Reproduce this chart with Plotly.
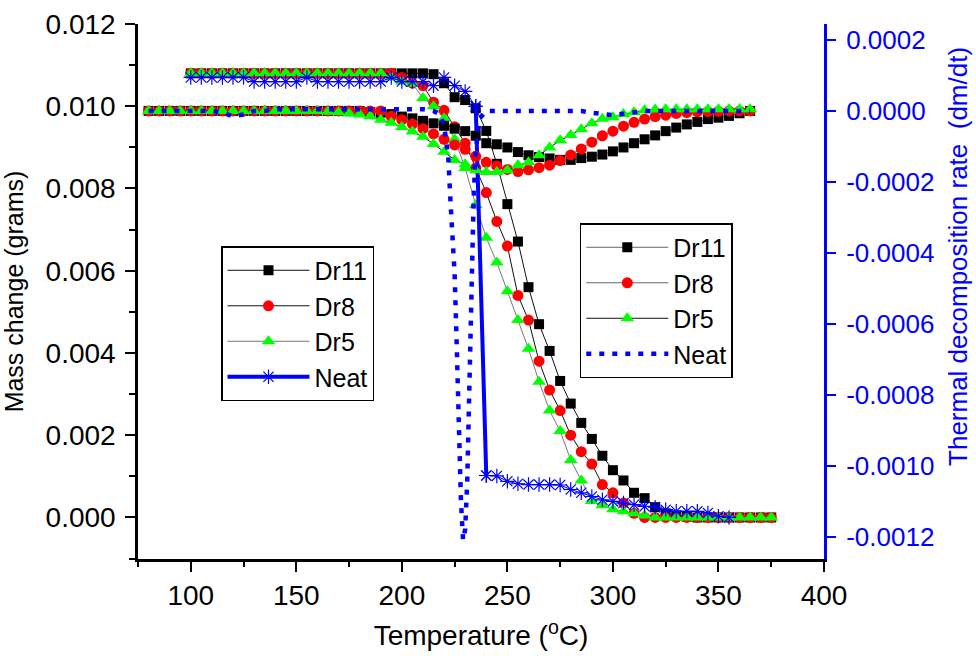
import plotly.graph_objects as go

# ---------------- data ----------------
# mass-change curves (left axis), temperature grid in degC
temp_mass = [100, 105, 110, 115, 120, 125, 130, 135, 140, 145, 150, 155, 160, 165, 170, 175,
             180, 185, 190, 195, 200, 205, 210, 215, 220, 225, 230, 235, 240, 245, 250, 255,
             260, 265, 270, 275, 280, 285, 290, 295, 300, 305, 310, 315, 320, 325, 330, 335,
             340, 345, 350, 355, 360, 365, 370, 375]

dr11_mass = [0.0108, 0.0108, 0.0108, 0.0108, 0.0108, 0.0108, 0.0108, 0.0108, 0.0108, 0.0108,
             0.0108, 0.0108, 0.0108, 0.0108, 0.0108, 0.0108, 0.0108, 0.0108, 0.0108, 0.0108,
             0.0108, 0.0108, 0.0108, 0.01078, 0.01056, 0.01022, 0.01015, 0.00995, 0.0094, 0.0086,
             0.00762, 0.00671, 0.0056, 0.0047, 0.00405, 0.00332, 0.00277, 0.0023, 0.00191, 0.0015,
             0.00115, 0.0009, 0.0006, 0.00047, 0.00025, 0.0001, 0.00005, 0.00002, 0.0, 0.0,
             0.0, 0.0, 0.0, 0.0, 0.0, 0.0]

dr8_mass = [0.0108, 0.0108, 0.0108, 0.0108, 0.0108, 0.0108, 0.0108, 0.0108, 0.0108, 0.0108,
            0.0108, 0.0108, 0.0108, 0.0108, 0.0108, 0.0108, 0.0108, 0.0108, 0.0108, 0.0108,
            0.0107, 0.01056, 0.0105, 0.0101, 0.0099, 0.0095, 0.0091, 0.0085, 0.0079, 0.0072,
            0.0066, 0.0054, 0.0048, 0.0038, 0.0031, 0.0026, 0.0020, 0.0016, 0.0013, 0.0008,
            0.0006, 0.00035, 0.0001, 0.0, 0.0, 0.0, 0.0, 0.0, 0.0, 0.0,
            0.0, 0.0, 0.0, 0.0, 0.0, 0.0]

dr5_mass = [0.0108, 0.0108, 0.0108, 0.0108, 0.0108, 0.0108, 0.0108, 0.0108, 0.0108, 0.0108,
            0.0108, 0.0108, 0.0108, 0.0108, 0.0108, 0.0108, 0.0108, 0.0108, 0.0108, 0.0107,
            0.0106, 0.01055, 0.0102, 0.0100, 0.0097, 0.0092, 0.0085, 0.0076, 0.0068, 0.0062,
            0.0055, 0.0048, 0.0041, 0.0033, 0.0026, 0.0021, 0.0014, 0.0009, 0.0004, 0.0003,
            0.0002, 0.00015, 0.0001, 0.00005, 0.0, 0.0, 0.0, 0.0, 0.0, 0.0,
            0.0, 0.0, 0.0, 0.0, 0.0, 0.0]

temp_neat = [100, 105, 110, 115, 120, 125, 130, 135, 140, 145, 150, 155, 160, 165, 170, 175,
             180, 185, 190, 195, 200, 205, 210, 215, 220, 225, 230, 235, 240, 245, 250, 255,
             260, 265, 270, 275, 280, 285, 290, 295, 300, 305, 310, 315, 320, 325, 330, 335,
             340, 345, 350, 355]

neat_mass = [0.0107, 0.0107, 0.0107, 0.0107, 0.0107, 0.0107, 0.0106, 0.0106, 0.0106, 0.0106,
             0.0106, 0.0107, 0.0106, 0.0106, 0.0106, 0.0106, 0.0106, 0.0106, 0.0106, 0.0107,
             0.0106, 0.0106, 0.0106, 0.0105, 0.0107, 0.0105, 0.01036, 0.0100, 0.00102, 0.00101,
             0.00088, 0.00082, 0.0008, 0.0008, 0.0008, 0.00079, 0.00068, 0.0006, 0.00051, 0.00043,
             0.00039, 0.00035, 0.00031, 0.00027, 0.00025, 0.00019, 0.00015, 0.00015, 0.00015, 0.00011,
             0.00003, 0.0]

# thermal decomposition rate curves (right axis)
temp_rate = [80, 85, 90, 95, 100, 105, 110, 115, 120, 125, 130, 135, 140, 145, 150, 155, 160,
             165, 170, 175, 180, 185, 190, 195, 200, 205, 210, 215, 220, 225, 230, 235, 240,
             245, 250, 255, 260, 265, 270, 275, 280, 285, 290, 295, 300, 305, 310, 315, 320,
             325, 330, 335, 340, 345, 350, 355, 360, 365]

dr11_rate = [0, 0, 0, 0, 0, 0, 0, 0, 0, 0, 0, 0, 0, 0, 0, 0, 0, 0, 0, 0,
             0, -0.000003, -0.000005, -0.000009, -0.000016, -0.000021, -0.000028, -0.000035,
             -0.000042, -0.00005, -0.000057, -0.00007, -0.000091, -0.000094, -0.000103, -0.000116,
             -0.000125, -0.00013, -0.000134, -0.000138, -0.000138, -0.000133, -0.000129, -0.000123,
             -0.000114, -0.000103, -0.000091, -0.00008, -0.000069, -0.000057, -0.000047, -0.000038,
             -0.000031, -0.000023, -0.000019, -0.000014, -0.0000065, 0]

dr8_rate = [0, 0, 0, 0, 0, 0, 0, 0, 0, 0, 0, 0, 0, 0, 0, 0, 0, 0, 0, 0, 0, 0, 0,
            -0.000015, -0.000025, -0.000037, -0.00005, -0.000065, -0.00008, -0.000096, -0.000108,
            -0.000128, -0.000145, -0.000155, -0.000165, -0.000171, -0.000166, -0.00016, -0.000153,
            -0.00014, -0.000124, -0.000107, -0.000088, -0.00007, -0.000057, -0.000043, -0.000032,
            -0.000023, -0.000016, -0.000012, -0.000007, -0.0000045, -0.000003, -0.000002,
            -0.000001, 0, 0, 0]

dr5_rate = [0, 0, 0, 0, 0, 0, 0, 0, 0, 0, 0, 0, 0, 0, 0, 0, 0,
            -0.000002, -0.000004, -0.000007, -0.00001, -0.000015, -0.000025, -0.000033, -0.000045,
            -0.000058, -0.000073, -0.000093, -0.000115, -0.000138, -0.00015, -0.000167, -0.000172,
            -0.000172, -0.000167, -0.000153, -0.000145, -0.000125, -0.000103, -0.000083, -0.000068,
            -0.000052, -0.000035, -0.000022, -0.000018, -0.000009, -0.000004, 0.000002, 0.000004,
            0.000005, 0.000005, 0.000005, 0.000005, 0.000005, 0.000005, 0.000005, 0.000005, 0.000005]

temp_neat_rate = [80, 85, 90, 95, 100, 105, 110, 115, 120, 125, 130, 135, 140, 145, 150, 155,
                  160, 165, 170, 175, 180, 185, 190, 195, 200, 205, 210, 215, 218, 220, 222, 223,
                  224, 225, 226, 227, 228, 229, 230, 231, 232, 233, 234, 235, 237, 240, 245, 250,
                  255, 260, 265, 270, 275, 280, 285, 290, 295, 300, 305, 310, 315, 320, 325, 330,
                  335, 340, 345, 350, 355, 360, 365]

neat_rate = [0, 0, 0, 0, 0, 0, 0, -0.000005, -0.000015, -0.00001, 0, 0,
             0.000005, 0.000005, 0.000005, 0.000005, 0.000005, 0.000005, 0.000005, 0.000005,
             0.000005, 0.000005, 0.000005, 0.000005, 0.000005, 0.000005, 0.000005, 0,
             -0.00001, -0.00004, -0.00013, -0.00025, -0.00036, -0.00046, -0.00066, -0.0009,
             -0.0011, -0.00121, -0.00118, -0.00104, -0.00078, -0.00048, -0.00025, -0.00011,
             -0.00002, 0, 0, 0, 0, 0, 0, 0, 0, 0, 0, -0.000005, -0.00001, -0.000012,
             -0.000008, -0.000003, 0, 0, 0, 0, 0, 0, 0, 0, 0, 0, 0]

mass_ticks = [0.000, 0.002, 0.004, 0.006, 0.008, 0.010, 0.012]
rate_ticks = [0.0002, 0.0000, -0.0002, -0.0004, -0.0006, -0.0008, -0.0010, -0.0012]
temp_ticks = [100, 150, 200, 250, 300, 350, 400]

# ---------------- figure ----------------
FONT = "Liberation Sans, Arial, sans-serif"
BLACK = "#000000"
RED = "#FF0000"
GREEN = "#00FF00"
BLUE = "#0000FF"

fig = go.Figure()

series_mass = [
    ("Dr11", dr11_mass, "square", 10, BLACK, "#111111"),
    ("Dr8", dr8_mass, "circle", 11, RED, "#111111"),
    ("Dr5", dr5_mass, "triangle-up", 12, GREEN, "#777777"),
]
for name, ys, sym, size, col, lcol in series_mass:
    fig.add_trace(go.Scatter(
        x=temp_mass, y=ys, name=name, mode="lines+markers",
        line=dict(color=lcol, width=1),
        marker=dict(symbol=sym, size=size, color=col, line=dict(width=0)),
        legend="legend", yaxis="y"))

# neat mass: thin connected asterisks
fig.add_trace(go.Scatter(
    x=temp_neat, y=neat_mass, name="Neat", mode="lines+markers", showlegend=False,
    line=dict(color=BLUE, width=1),
    marker=dict(symbol="asterisk-open", size=12, color=BLUE, line=dict(width=1.2, color=BLUE)),
    legend="legend", yaxis="y"))

# neat mass: the abrupt drop drawn as a thick segment
drops = [neat_mass[i + 1] - neat_mass[i] for i in range(len(neat_mass) - 1)]
k = drops.index(min(drops))
fig.add_trace(go.Scatter(
    x=temp_neat[k:k + 2], y=neat_mass[k:k + 2], name="Neat", mode="lines+markers",
    line=dict(color=BLUE, width=4),
    marker=dict(symbol="asterisk-open", size=12, color=BLUE, line=dict(width=1.2, color=BLUE)),
    legend="legend", yaxis="y"))

series_rate = [
    ("Dr11", dr11_rate, "square", 10, BLACK, "#666666"),
    ("Dr8", dr8_rate, "circle", 11, RED, "#666666"),
    ("Dr5", dr5_rate, "triangle-up", 12, GREEN, "#111111"),
]
for name, ys, sym, size, col, lcol in series_rate:
    fig.add_trace(go.Scatter(
        x=temp_rate, y=ys, name=name, mode="lines+markers",
        line=dict(color=lcol, width=1),
        marker=dict(symbol=sym, size=size, color=col, line=dict(width=0)),
        legend="legend2", yaxis="y2"))

fig.add_trace(go.Scatter(
    x=temp_neat_rate, y=neat_rate, name="Neat", mode="lines",
    line=dict(color=BLUE, width=4.5, dash="5px,8px"),
    legend="legend2", yaxis="y2"))

axis_common = dict(showgrid=False, zeroline=False, showline=True)

fig.update_layout(
    width=976, height=656,
    margin=dict(l=138, r=152, t=24, b=97, autoexpand=False),
    paper_bgcolor="white", plot_bgcolor="white",
    font=dict(family=FONT, size=26, color=BLACK),
    xaxis=dict(
        **axis_common, range=[75, 400], tickvals=temp_ticks,
        ticks="outside", ticklen=10, tickwidth=2, tickcolor=BLACK,
        linecolor=BLACK, linewidth=2.5,
        tickfont=dict(size=28, family=FONT),
        minor=dict(ticks="outside", ticklen=5, tickwidth=2, tickcolor=BLACK,
                   tick0=75, dtick=25, showgrid=False),
        title=dict(text="Temperature (<sup>o</sup>C)", font=dict(size=28, family=FONT),
                   standoff=16),
    ),
    yaxis=dict(
        **axis_common, range=[-0.00101, 0.012], tickvals=mass_ticks, tickformat=".3f",
        ticks="outside", ticklen=10, tickwidth=2, tickcolor=BLACK,
        linecolor=BLACK, linewidth=2.5, ticklabelstandoff=4,
        tickfont=dict(size=28, family=FONT),
        minor=dict(ticks="outside", ticklen=6, tickwidth=2, tickcolor=BLACK,
                   tick0=0, dtick=0.001, showgrid=False),
        title=dict(text="Mass change (grams)", font=dict(size=25, family=FONT), standoff=16),
    ),
    yaxis2=dict(
        **axis_common, overlaying="y", side="right", range=[-0.001263, 0.000245],
        tickvals=rate_ticks, ticktext=[f"{v:.4f}" for v in rate_ticks],
        ticks="outside", ticklen=9, tickwidth=2, tickcolor=BLUE,
        linecolor=BLUE, linewidth=3, ticklabelstandoff=5,
        tickfont=dict(size=26, family=FONT, color=BLUE),
    ),
    legend=dict(
        x=0.121, y=0.585, xanchor="left", yanchor="top",
        bgcolor="white", bordercolor=BLACK, borderwidth=1.5,
        font=dict(size=25, family=FONT), itemwidth=82, tracegroupgap=0,
    ),
    legend2=dict(
        x=0.644, y=0.628, xanchor="left", yanchor="top",
        bgcolor="white", bordercolor=BLACK, borderwidth=1.5,
        font=dict(size=25, family=FONT), itemwidth=82, tracegroupgap=0,
    ),
    annotations=[dict(
        text="Thermal decomposition rate \u00a0(dm/dt)", textangle=-90,
        xref="paper", yref="paper", x=1.195, y=0.566, xanchor="center", yanchor="middle",
        showarrow=False, font=dict(size=26, family=FONT, color=BLUE),
    )],
)

fig.write_html("out.html")
